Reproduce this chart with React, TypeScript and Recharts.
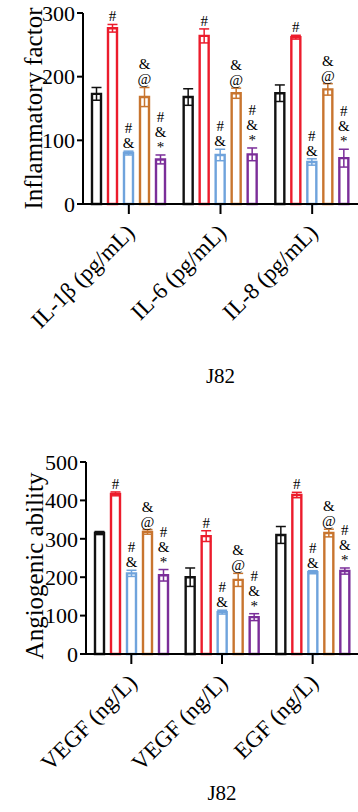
import React from 'react';
import { BarChart, Bar, XAxis, YAxis, ErrorBar, LabelList } from 'recharts';

const FONT = '"Liberation Serif", "Times New Roman", serif';

// group colours (outline only, white fill)
const COLORS = ['#111111', '#ec1c2c', '#6fa3dc', '#c8752f', '#7b2e99'];
const KEYS = ['s1', 's2', 's3', 's4', 's5'];
// significance marks shown above each group, bottom line last
const MARKS = [[], ['#'], ['#', '&'], ['&', '@'], ['#', '&', '*']];

// Inflammatory factor panel
const inflCategories = ['IL-1β (pg/mL)', 'IL-6 (pg/mL)', 'IL-8 (pg/mL)'];
const inflTicks = [0, 100, 200, 300];
const inflS1 = [173, 168, 174];
const inflS2 = [276, 264, 262];
const inflS3 = [80, 77, 66];
const inflS4 = [168, 174, 180];
const inflS5 = [70, 78, 72];
const inflS1Err = [10, 13, 13];
const inflS2Err = [6, 11, 3];
const inflS3Err = [3, 9, 5];
const inflS4Err = [15, 8, 9];
const inflS5Err = [7, 10, 14];

// Angiogenic ability panel
const angioCategories = ['VEGF (ng/L)', 'VEGF (ng/L)', 'EGF (ng/L)'];
const angioTicks = [0, 100, 200, 300, 400, 500];
const angioS1 = [315, 200, 310];
const angioS2 = [417, 307, 414];
const angioS3 = [210, 109, 213];
const angioS4 = [318, 193, 315];
const angioS5 = [205, 96, 216];
const angioS1Err = [4, 24, 22];
const angioS2Err = [5, 14, 7];
const angioS3Err = [8, 5, 4];
const angioS4Err = [6, 17, 10];
const angioS5Err = [15, 9, 8];

function buildRows(cats: string[], vals: number[][], errs: number[][]) {
  return cats.map((name, i) => {
    const row: any = { name, idx: i };
    KEYS.forEach((k, j) => {
      row[k] = vals[j][i];
      row[k + 'Err'] = errs[j][i];
    });
    return row;
  });
}

const inflData = buildRows(
  inflCategories,
  [inflS1, inflS2, inflS3, inflS4, inflS5],
  [inflS1Err, inflS2Err, inflS3Err, inflS4Err, inflS5Err]
);
const angioData = buildRows(
  angioCategories,
  [angioS1, angioS2, angioS3, angioS4, angioS5],
  [angioS1Err, angioS2Err, angioS3Err, angioS4Err, angioS5Err]
);

function AngledTick(props: any) {
  const { x, y, payload } = props;
  return (
    <text
      transform={`translate(${x + 7},${y + 18}) rotate(-45)`}
      textAnchor="end"
      fontSize={23}
      fontFamily={FONT}
      fill="#000"
    >
      {payload.value}
    </text>
  );
}

// stacked # & @ * marks above a bar, sitting on top of the error bar
function marksContent(series: number, rows: any[]) {
  return (props: any) => {
    const { x, y, width, height, index } = props;
    const marks = MARKS[series];
    if (!marks.length) return null;
    const row = rows[index];
    const v = row[KEYS[series]];
    const ppu = v ? height / v : 0;
    const base = y - row[KEYS[series] + 'Err'] * ppu - 3;
    const cx = x + width / 2;
    return (
      <g>
        {marks.map((m, k) => (
          <text
            key={k}
            x={cx}
            y={base - (marks.length - 1 - k) * 15}
            textAnchor="middle"
            fontSize={15}
            fontFamily={FONT}
            fill="#000"
          >
            {m}
          </text>
        ))}
      </g>
    );
  };
}

function YTitle(props: any) {
  const { viewBox, value, x } = props;
  const cy = viewBox.y + viewBox.height / 2 + (props.shift || 0);
  return (
    <text
      x={x}
      y={cy}
      transform={`rotate(-90 ${x} ${cy})`}
      textAnchor="middle"
      fontSize={25}
      fontFamily={FONT}
      fill="#000"
    >
      {value}
    </text>
  );
}

function XTitle(props: any) {
  const { viewBox, dy } = props;
  return (
    <text
      x={viewBox.x + viewBox.width / 2}
      y={viewBox.y + dy}
      textAnchor="middle"
      fontSize={21}
      fontFamily={FONT}
      fill="#000"
    >
      J82
    </text>
  );
}

function Panel(props: any) {
  const { data, ticks, max, height, top, yWidth, xHeight, title, titleShift, jDy } = props;
  return (
    <BarChart
      width={358}
      height={height}
      data={data}
      margin={{ top, right: 0, bottom: 0, left: 0 }}
      barSize={9}
      barGap={7}
    >
      <XAxis
        dataKey="name"
        height={xHeight}
        interval={0}
        tick={<AngledTick />}
        tickSize={10}
        tickLine={{ stroke: '#000', strokeWidth: 2 }}
        axisLine={{ stroke: '#000', strokeWidth: 2 }}
        label={<XTitle dy={jDy} />}
      />
      <YAxis
        width={yWidth}
        domain={[0, max]}
        ticks={ticks}
        interval={0}
        tickSize={6}
        tick={{ fontSize: 22, fill: '#000', fontFamily: FONT }}
        tickLine={{ stroke: '#000', strokeWidth: 2 }}
        axisLine={{ stroke: '#000', strokeWidth: 2 }}
        label={<YTitle value={title} x={22} shift={titleShift} />}
      />
      {KEYS.map((k, j) => (
        <Bar
          key={k}
          dataKey={k}
          fill="#fff"
          stroke={COLORS[j]}
          strokeWidth={2.4}
          isAnimationActive={false}
        >
          <ErrorBar dataKey={k + 'Err'} width={5} stroke={COLORS[j]} strokeWidth={1.5} direction="y" />
          <LabelList dataKey={k} content={marksContent(j, data)} />
        </Bar>
      ))}
    </BarChart>
  );
}

export default function App() {
  return (
    <div style={{ width: 358, height: 812, background: '#fff' }}>
      <style>{`body{margin:0}`}</style>
      <Panel
        data={inflData}
        ticks={inflTicks}
        max={300}
        height={420}
        top={13}
        yWidth={83}
        xHeight={216}
        title="Inflammatory factor"
        titleShift={0}
        jDy={179}
      />
      <Panel
        data={angioData}
        ticks={angioTicks}
        max={500}
        height={392}
        top={42}
        yWidth={86}
        xHeight={158}
        title="Angiogenic ability"
        titleShift={8}
        jDy={146}
      />
    </div>
  );
}
